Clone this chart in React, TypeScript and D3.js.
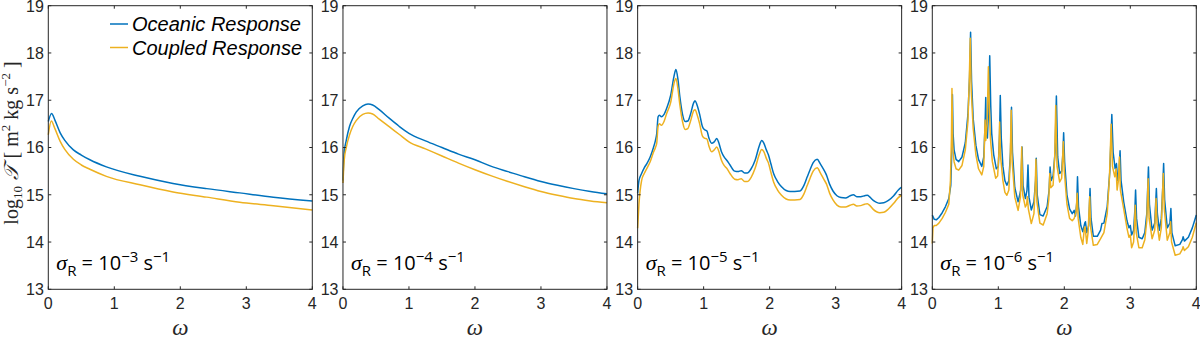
import React from "react";
import * as d3 from "d3";

const W = 1200;
const H = 340;

const xTicks = [0, 1, 2, 3, 4];
const yTicks = [13, 14, 15, 16, 17, 18, 19];
const sigmaExps = ["−3", "−4", "−5", "−6"];
const seriesNames = ["Oceanic Response", "Coupled Response"];
const seriesColors = ["#0072BD", "#EDB120"];

type P = [number, number];

const oceanic1: P[] = [[0,16.55],[0.05,16.72],[0.1,16.58],[0.18,16.31],[0.25,16.15],[0.38,15.95],[0.5,15.84],[0.63,15.74],[0.88,15.59],[1.39,15.39],[1.89,15.24],[2.4,15.13],[2.9,15.04],[3.41,14.95],[4,14.87]];
const coupled1: P[] = [[0,16.27],[0.045,16.56],[0.1,16.4],[0.18,16.13],[0.25,15.96],[0.38,15.75],[0.5,15.63],[0.63,15.54],[0.88,15.39],[1.39,15.21],[1.89,15.06],[2.4,14.95],[2.9,14.84],[3.41,14.77],[4,14.68]];

const oceanic2: P[] = [[0,15.3],[0.01,15.7],[0.02,15.9],[0.05,16.15],[0.1,16.45],[0.15,16.62],[0.2,16.75],[0.3,16.88],[0.38,16.92],[0.45,16.9],[0.55,16.8],[0.7,16.62],[0.85,16.45],[1.0,16.3],[1.25,16.14],[1.5,16.0],[1.75,15.86],[2.0,15.74],[2.25,15.6],[2.5,15.49],[2.75,15.38],[3.0,15.28],[3.25,15.2],[3.5,15.13],[3.75,15.07],[4,15.02]];
const coupled2: P[] = [[0,15.25],[0.01,15.55],[0.02,15.75],[0.05,16.0],[0.1,16.27],[0.15,16.45],[0.2,16.57],[0.3,16.7],[0.38,16.73],[0.45,16.71],[0.55,16.6],[0.7,16.44],[0.85,16.28],[1.0,16.12],[1.25,15.97],[1.5,15.82],[1.75,15.67],[2.0,15.53],[2.25,15.4],[2.5,15.28],[2.75,15.17],[3.0,15.07],[3.25,14.99],[3.5,14.92],[3.75,14.87],[4,14.83]];

const oceanic3: P[] = [[0,15.03],[0.02,15.3],[0.06,15.45],[0.1,15.57],[0.14,15.66],[0.19,15.8],[0.24,16.0],[0.27,16.15],[0.29,16.3],[0.31,16.65],[0.33,16.68],[0.36,16.65],[0.4,16.7],[0.44,16.83],[0.5,17.1],[0.55,17.5],[0.58,17.65],[0.61,17.45],[0.64,17.07],[0.68,16.7],[0.72,16.55],[0.76,16.56],[0.8,16.7],[0.85,16.95],[0.87,16.99],[0.9,16.9],[0.94,16.7],[0.98,16.45],[1.01,16.38],[1.05,16.35],[1.08,16.2],[1.12,16.09],[1.16,16.12],[1.2,16.19],[1.23,16.1],[1.27,15.91],[1.31,15.8],[1.35,15.73],[1.4,15.63],[1.47,15.5],[1.52,15.49],[1.57,15.51],[1.62,15.46],[1.66,15.46],[1.72,15.55],[1.78,15.73],[1.84,16.02],[1.88,16.15],[1.91,16.1],[1.95,15.95],[1.98,15.85],[2.02,15.65],[2.06,15.45],[2.12,15.28],[2.18,15.17],[2.25,15.09],[2.31,15.07],[2.38,15.07],[2.46,15.08],[2.52,15.2],[2.57,15.38],[2.61,15.52],[2.66,15.68],[2.72,15.75],[2.77,15.65],[2.82,15.53],[2.86,15.42],[2.91,15.22],[2.96,15.08],[3.02,14.98],[3.08,14.94],[3.15,14.93],[3.22,14.98],[3.27,15.0],[3.32,14.96],[3.38,14.96],[3.44,14.98],[3.48,14.99],[3.52,14.95],[3.57,14.88],[3.62,14.84],[3.67,14.82],[3.73,14.83],[3.8,14.88],[3.88,14.98],[3.95,15.1],[4,15.16]];
const coupled3: P[] = [[0,14.29],[0.02,14.8],[0.06,15.3],[0.1,15.45],[0.14,15.56],[0.19,15.7],[0.24,15.9],[0.27,16.0],[0.29,16.1],[0.31,16.45],[0.33,16.5],[0.36,16.47],[0.4,16.55],[0.44,16.72],[0.5,16.95],[0.55,17.35],[0.58,17.46],[0.61,17.25],[0.64,16.9],[0.68,16.55],[0.72,16.38],[0.76,16.4],[0.8,16.55],[0.85,16.78],[0.87,16.8],[0.9,16.7],[0.94,16.5],[0.98,16.25],[1.01,16.2],[1.05,16.18],[1.08,16.03],[1.12,15.91],[1.16,15.95],[1.2,16.01],[1.23,15.92],[1.27,15.73],[1.31,15.62],[1.35,15.56],[1.4,15.45],[1.47,15.33],[1.52,15.32],[1.57,15.34],[1.62,15.28],[1.66,15.28],[1.72,15.37],[1.78,15.56],[1.84,15.84],[1.88,15.96],[1.91,15.92],[1.95,15.77],[1.98,15.68],[2.02,15.47],[2.06,15.27],[2.12,15.1],[2.18,14.99],[2.25,14.91],[2.31,14.89],[2.38,14.89],[2.46,14.9],[2.52,15.02],[2.57,15.2],[2.61,15.34],[2.66,15.5],[2.72,15.57],[2.77,15.46],[2.82,15.33],[2.86,15.23],[2.91,15.03],[2.96,14.89],[3.02,14.78],[3.08,14.74],[3.15,14.74],[3.22,14.78],[3.27,14.8],[3.32,14.76],[3.38,14.77],[3.44,14.8],[3.48,14.81],[3.52,14.77],[3.57,14.69],[3.62,14.64],[3.67,14.62],[3.73,14.63],[3.8,14.7],[3.88,14.82],[3.95,14.94],[4,14.99]];

const oceanic4: P[] = [[0,14.57],[0.03,14.48],[0.06,14.47],[0.1,14.52],[0.15,14.62],[0.2,14.75],[0.25,14.92],[0.28,15.2],[0.295,15.9],[0.305,17.12],[0.315,16.3],[0.33,15.95],[0.36,15.75],[0.4,15.7],[0.45,15.8],[0.5,16.1],[0.54,16.7],[0.565,17.5],[0.58,18.44],[0.595,17.4],[0.62,16.6],[0.66,16.05],[0.7,15.75],[0.75,15.6],[0.78,15.8],[0.8,16.5],[0.81,17.06],[0.82,16.3],[0.835,16.2],[0.855,16.9],[0.87,17.94],[0.885,16.9],[0.9,16.3],[0.93,15.85],[0.97,15.55],[1.0,15.6],[1.02,16.3],[1.03,17.1],[1.045,16.2],[1.07,15.6],[1.1,15.3],[1.13,15.2],[1.16,15.3],[1.185,15.9],[1.2,16.85],[1.215,15.9],[1.25,15.15],[1.3,14.85],[1.34,15.1],[1.36,16.01],[1.375,15.2],[1.41,14.92],[1.435,15.1],[1.45,15.63],[1.465,14.95],[1.5,14.68],[1.54,14.85],[1.565,15.3],[1.575,15.77],[1.59,15.0],[1.63,14.58],[1.68,14.55],[1.74,14.75],[1.77,15.1],[1.785,15.59],[1.8,15.3],[1.83,15.4],[1.86,15.9],[1.88,17.09],[1.9,15.8],[1.93,15.45],[1.96,15.5],[1.98,15.9],[1.99,16.31],[2.005,15.7],[2.04,15.0],[2.08,14.7],[2.12,14.6],[2.15,14.67],[2.17,14.55],[2.19,14.85],[2.2,15.38],[2.215,14.75],[2.25,14.35],[2.28,14.22],[2.31,14.4],[2.32,14.43],[2.34,14.2],[2.37,14.35],[2.39,15.13],[2.405,14.5],[2.44,14.12],[2.5,14.12],[2.55,14.25],[2.57,14.39],[2.6,14.4],[2.65,14.75],[2.69,15.5],[2.72,16.7],[2.74,15.9],[2.77,15.55],[2.79,15.66],[2.81,15.3],[2.83,15.5],[2.845,15.93],[2.86,15.3],[2.9,14.85],[2.95,14.45],[2.98,14.3],[3.0,14.35],[3.02,14.15],[3.05,14.25],[3.07,14.7],[3.08,15.1],[3.095,14.5],[3.13,14.1],[3.18,14.07],[3.22,14.2],[3.25,14.6],[3.275,15.59],[3.29,14.8],[3.33,14.25],[3.37,14.4],[3.395,15.13],[3.41,14.6],[3.44,14.25],[3.47,14.5],[3.49,15.1],[3.505,15.66],[3.52,14.9],[3.56,14.3],[3.6,14.4],[3.615,14.71],[3.63,14.2],[3.68,13.92],[3.75,13.95],[3.79,14.05],[3.8,14.11],[3.82,14.02],[3.88,14.1],[3.94,14.3],[4,14.57]];
const coupled4: P[] = [[0,13.97],[0.01,14.3],[0.03,14.35],[0.06,14.35],[0.1,14.4],[0.15,14.5],[0.2,14.63],[0.25,14.8],[0.275,15.3],[0.29,16.2],[0.298,17.25],[0.31,16.0],[0.33,15.7],[0.36,15.55],[0.4,15.52],[0.45,15.62],[0.5,15.95],[0.54,16.55],[0.56,17.4],[0.575,18.31],[0.59,17.2],[0.62,16.4],[0.66,15.85],[0.7,15.55],[0.75,15.42],[0.78,15.6],[0.8,16.58],[0.81,16.15],[0.83,16.5],[0.85,17.71],[0.865,16.8],[0.88,16.2],[0.91,15.7],[0.96,15.35],[0.99,15.4],[1.01,15.9],[1.02,16.54],[1.035,15.8],[1.07,15.3],[1.1,15.05],[1.13,14.99],[1.16,15.1],[1.18,15.7],[1.195,16.79],[1.21,15.7],[1.25,14.95],[1.3,14.67],[1.335,14.95],[1.355,16.01],[1.37,15.0],[1.41,14.74],[1.43,14.8],[1.44,14.96],[1.455,14.7],[1.5,14.39],[1.54,14.6],[1.56,15.2],[1.57,15.75],[1.585,14.85],[1.63,14.4],[1.68,14.36],[1.74,14.6],[1.765,14.9],[1.78,15.45],[1.795,15.15],[1.83,15.2],[1.855,15.8],[1.87,16.89],[1.89,15.6],[1.93,15.27],[1.96,15.35],[1.975,15.8],[1.985,16.12],[2.0,15.5],[2.04,14.8],[2.08,14.5],[2.12,14.45],[2.15,14.5],[2.18,14.65],[2.195,15.03],[2.21,14.5],[2.25,14.1],[2.28,13.95],[2.305,14.3],[2.315,14.32],[2.34,13.97],[2.36,14.2],[2.385,14.96],[2.4,14.3],[2.44,13.93],[2.5,13.95],[2.55,14.07],[2.6,14.2],[2.65,14.6],[2.685,15.4],[2.71,16.49],[2.73,15.6],[2.765,15.38],[2.785,15.55],[2.8,15.1],[2.82,15.3],[2.835,15.8],[2.85,15.1],[2.9,14.7],[2.95,14.29],[2.98,14.1],[3.0,14.15],[3.02,13.88],[3.05,14.0],[3.065,14.4],[3.075,14.78],[3.09,14.2],[3.13,13.88],[3.18,13.88],[3.22,14.05],[3.25,14.45],[3.27,15.34],[3.285,14.5],[3.33,14.07],[3.37,14.25],[3.39,14.92],[3.405,14.4],[3.44,14.04],[3.47,14.3],[3.485,14.9],[3.5,15.45],[3.515,14.7],[3.56,14.04],[3.6,14.2],[3.61,14.43],[3.625,14.0],[3.68,13.72],[3.75,13.75],[3.79,13.85],[3.8,13.9],[3.82,13.82],[3.88,13.9],[3.94,14.1],[4,14.41]];

const oceanicSeries = [oceanic1, oceanic2, oceanic3, oceanic4];
const coupledSeries = [coupled1, coupled2, coupled3, coupled4];

const PANEL_W = 264;
const PANEL_TOP = 5.7;
const PANEL_BOTTOM = 289.3;
const panelLeft = d3.scaleLinear().domain([0, 3]).range([48.3, 932.3]);

const AXIS = "#262626";
const SANS = "'Liberation Sans', Arial, Helvetica, sans-serif";
const SERIF = "'Liberation Serif', 'Times New Roman', serif";
const ANNOT = "'Open Sans', 'Noto Sans', sans-serif";

function Panel({ idx }: { idx: number }) {
  const left = panelLeft(idx);
  const x = d3.scaleLinear().domain([0, 4]).range([left, left + PANEL_W]);
  const y = d3.scaleLinear().domain([13, 19]).range([PANEL_BOTTOM, PANEL_TOP]);
  const line = d3
    .line<P>()
    .x((d) => x(d[0]))
    .y((d) => y(d[1]))
    .curve(idx === 3 ? d3.curveLinear : d3.curveMonotoneX);
  const tl = 3;
  const cx = (x(0) + x(4)) / 2;
  return (
    <g>
      <path d={line(oceanicSeries[idx]) || ""} fill="none" stroke={seriesColors[0]} strokeWidth={1.5} strokeLinejoin="round" />
      <path d={line(coupledSeries[idx]) || ""} fill="none" stroke={seriesColors[1]} strokeWidth={1.5} strokeLinejoin="round" />
      <rect x={x(0)} y={y(19)} width={x(4) - x(0)} height={y(13) - y(19)} fill="none" stroke={AXIS} strokeWidth={1} />
      {xTicks.map((t) => (
        <g key={"xt" + t}>
          <line x1={x(t)} x2={x(t)} y1={y(13)} y2={y(13) - tl} stroke={AXIS} />
          <line x1={x(t)} x2={x(t)} y1={y(19)} y2={y(19) + tl} stroke={AXIS} />
          <text x={x(t)} y={y(13) + 20} textAnchor="middle" fontFamily={SANS} fontSize={16} fill={AXIS}>
            {t}
          </text>
        </g>
      ))}
      {yTicks.map((t) => (
        <g key={"yt" + t}>
          <line x1={x(0)} x2={x(0) + tl} y1={y(t)} y2={y(t)} stroke={AXIS} />
          <line x1={x(4)} x2={x(4) - tl} y1={y(t)} y2={y(t)} stroke={AXIS} />
          <text x={x(0) - 4.5} y={y(t) + 5.8} textAnchor="end" fontFamily={SANS} fontSize={16} fill={AXIS}>
            {t}
          </text>
        </g>
      ))}
      <text x={cx} y={335} textAnchor="middle" fontFamily={SERIF} fontStyle="italic" fontSize={23} fill={AXIS}>
        ω
      </text>
      <text x={x(0) + 8} y={270} fontFamily={ANNOT} fontSize={20} fill="#000">
        <tspan fontFamily={SERIF} fontStyle="italic" fontSize={22}>σ</tspan>
        <tspan dy={6} fontSize={15}>R</tspan>
        <tspan dy={-6}>{" = 10"}</tspan>
        <tspan dy={-8} fontSize={15}>{sigmaExps[idx]}</tspan>
        <tspan dy={8}>{" s"}</tspan>
        <tspan dy={-8} fontSize={15}>−1</tspan>
      </text>
    </g>
  );
}

export default function App() {
  return (
    <svg width={W} height={H} style={{ display: "block", position: "absolute", left: 0, top: 0, background: "#fff" }}>
      <rect width={W} height={H} fill="#fff" />
      {[0, 1, 2, 3].map((i) => (
        <Panel key={i} idx={i} />
      ))}
      <g transform="translate(18,143) rotate(-90)">
        <text textAnchor="middle" fontFamily={SERIF} fontSize={20} fill={AXIS}>
          <tspan>log</tspan>
          <tspan dy={4} fontSize={13}>10</tspan>
          <tspan dy={-4} fontFamily="'DejaVu Serif', 'DejaVu Sans', serif" fontStyle="italic">{" 𝒯 "}</tspan>
          <tspan>{" [ m"}</tspan>
          <tspan dy={-8} fontSize={13}>2</tspan>
          <tspan dy={8}>{" kg s"}</tspan>
          <tspan dy={-8} fontSize={13}>−2</tspan>
          <tspan dy={8}>{" ]"}</tspan>
        </text>
      </g>
      {seriesNames.map((n, i) => (
        <g key={n}>
          <line x1={110} x2={128} y1={24 + i * 23.5} y2={24 + i * 23.5} stroke={seriesColors[i]} strokeWidth={1.5} />
          <text x={132} y={31 + i * 23.5} fontFamily={SANS} fontStyle="italic" fontSize={20} fill="#000">
            {n}
          </text>
        </g>
      ))}
    </svg>
  );
}
